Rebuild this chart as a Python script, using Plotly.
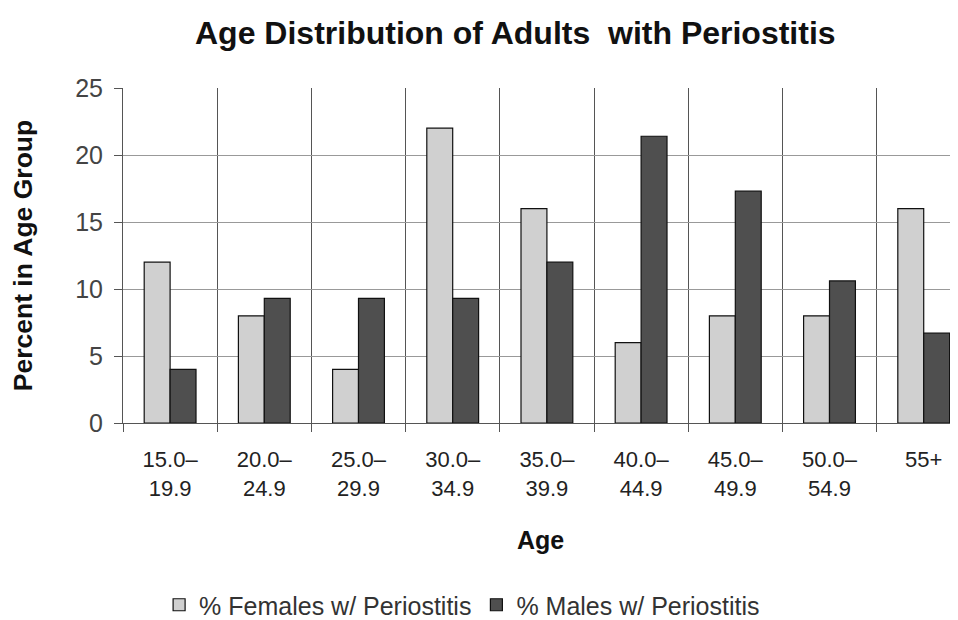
import plotly.graph_objects as go

age_groups = ["15.0–<br>19.9", "20.0–<br>24.9", "25.0–<br>29.9", "30.0–<br>34.9",
              "35.0–<br>39.9", "40.0–<br>44.9", "45.0–<br>49.9", "50.0–<br>54.9", "55+"]
females = [12, 8, 4, 22, 16, 6, 8, 8, 16]
males = [4, 9.3, 9.3, 9.3, 12, 21.4, 17.3, 10.6, 6.7]
y_ticks = [0, 5, 10, 15, 20, 25]

FONT = "Liberation Sans, Arial, sans-serif"

fig = go.Figure()
fig.add_trace(go.Bar(x=age_groups, y=females, name="% Females w/ Periostitis",
                     marker=dict(color="#d0d0d0", line=dict(color="#111111", width=1.2))))
fig.add_trace(go.Bar(x=age_groups, y=males, name="% Males w/ Periostitis",
                     marker=dict(color="#4f4f4f", line=dict(color="#111111", width=1.2))))

fig.update_layout(
    width=950, height=612,
    margin=dict(l=115, r=0, t=80, b=197),
    paper_bgcolor="white", plot_bgcolor="white",
    barmode="group", bargap=0.45, bargroupgap=0,
    font=dict(family=FONT, size=16, color="#222222"),
    title=dict(text="<b>Age Distribution of Adults  with Periostitis</b>",
               x=0.534, xanchor="center", y=0.959, yanchor="middle",
               font=dict(family=FONT, size=32, color="#111111")),
    showlegend=True,
    legend=dict(orientation="h", xref="container", yref="container",
                x=0.478, xanchor="center", y=0.0245, yanchor="middle",
                font=dict(family=FONT, size=25, color="#333333"),
                traceorder="normal"),
    xaxis=dict(
        range=[-0.5, 8.364], automargin=False,
        tickson="boundaries", ticks="outside", ticklen=8, tickcolor="#555555",
        showgrid=True, gridcolor="#555555", gridwidth=1,
        showline=True, linecolor="#555555", linewidth=1,
        tickfont=dict(family=FONT, size=22, color="#222222"),
        tickangle=0, ticklabelstandoff=17,
        title=dict(text="<b>Age</b>", font=dict(family=FONT, size=25, color="#111111"), standoff=31),
    ),
    yaxis=dict(
        range=[0, 25], tickvals=y_ticks, automargin=False,
        ticks="outside", ticklen=8, tickcolor="#555555",
        showgrid=True, gridcolor="#999999", gridwidth=1,
        showline=True, linecolor="#555555", linewidth=1,
        tickfont=dict(family=FONT, size=25, color="#444444"),
        ticklabelstandoff=6,
        title=dict(text="<b>Percent in Age Group</b>", font=dict(family=FONT, size=26.5, color="#111111"), standoff=38),
        zeroline=False,
    ),
)

fig.write_html("out.html")
